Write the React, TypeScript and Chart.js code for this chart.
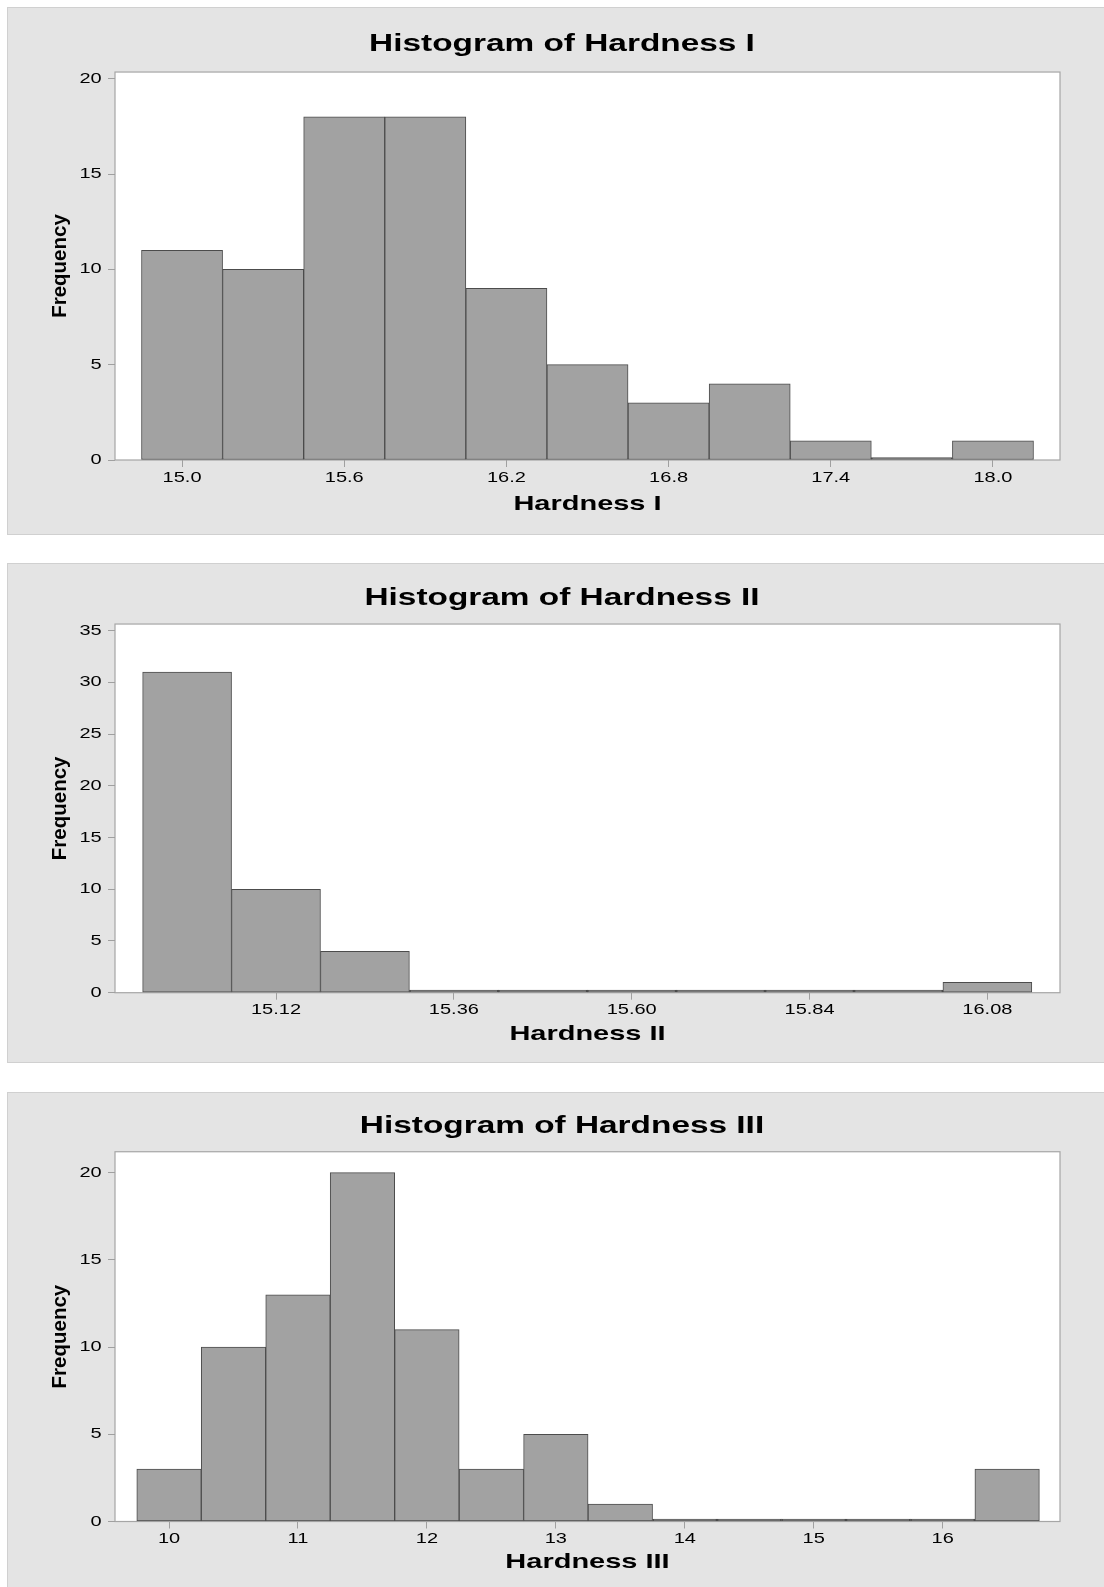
import { useEffect, useRef } from 'react';
import { Chart, registerables } from 'chart.js';

Chart.register(...registerables);

const FONT = "'Liberation Sans', Arial, Helvetica, sans-serif";
Chart.defaults.font.family = FONT;
Chart.defaults.color = '#000';

// ---------- Data ----------
const binsI = [15.0, 15.3, 15.6, 15.9, 16.2, 16.5, 16.8, 17.1, 17.4, 17.7, 18.0];
const freqI = [11, 10, 18, 18, 9, 5, 3, 4, 1, 0, 1];
const xTicksI = [15.0, 15.6, 16.2, 16.8, 17.4, 18.0];
const yTicksI = [0, 5, 10, 15, 20];

const binsII = [15.0, 15.12, 15.24, 15.36, 15.48, 15.6, 15.72, 15.84, 15.96, 16.08];
const freqII = [31, 10, 4, 0, 0, 0, 0, 0, 0, 1];
const xTicksII = [15.12, 15.36, 15.6, 15.84, 16.08];
const yTicksII = [0, 5, 10, 15, 20, 25, 30, 35];

const binsIII = [10.0, 10.5, 11.0, 11.5, 12.0, 12.5, 13.0, 13.5, 14.0, 14.5, 15.0, 15.5, 16.0, 16.5];
const freqIII = [3, 10, 13, 20, 11, 3, 5, 1, 0, 0, 0, 0, 0, 3];
const xTicksIII = [10, 11, 12, 13, 14, 15, 16];
const yTicksIII = [0, 5, 10, 15, 20];

// ---------- Plugins ----------
const framePlugin = {
  id: 'plotFrame',
  beforeDraw(chart: any) {
    const { ctx, chartArea: a } = chart;
    ctx.save();
    ctx.fillStyle = '#ffffff';
    ctx.fillRect(a.left, a.top, a.right - a.left, a.bottom - a.top);
    ctx.strokeStyle = '#a6a6a6';
    ctx.lineWidth = 1.2;
    ctx.strokeRect(a.left, a.top, a.right - a.left, a.bottom - a.top);
    ctx.restore();
  },
};

// The reference graphic has horizontally widened lettering; reproduce it by
// stretching horizontal text about its anchor point.
const TEXT_STRETCH = 1.38;
const textStretchPlugin = {
  id: 'textStretch',
  beforeDraw(chart: any) {
    const ctx: any = chart.ctx;
    if (ctx.__stretched) return;
    ctx.__stretched = true;
    const orig = ctx.fillText;
    ctx.fillText = function (text: string, x: number, y: number) {
      const t = this.getTransform();
      const rotated = Math.abs(t.b) > 0.01;
      if (rotated) {
        orig.call(this, text, x, y);
        return;
      }
      this.save();
      this.translate(x, y);
      this.scale(TEXT_STRETCH, 1);
      orig.call(this, text, 0, 0);
      this.restore();
    };
  },
};

// ---------- Panels ----------
type PanelSpec = {
  top: number;
  height: number;
  title: string;
  xTitle: string;
  bins: number[];
  freq: number[];
  xTicks: number[];
  yTicks: number[];
  decimals: number;
  xMin: number;
  xMax: number;
  yMax: number;
  titlePadTop: number;
  titlePadBottom: number;
  xAxisHeight: number;
  xTitlePadBottom: number;
};

const panels: PanelSpec[] = [
  {
    top: 7, height: 528,
    title: 'Histogram of Hardness I', xTitle: 'Hardness I',
    bins: binsI, freq: freqI, xTicks: xTicksI, yTicks: yTicksI, decimals: 1,
    xMin: 14.752, xMax: 18.248, yMax: 20.35,
    titlePadTop: 21.5, titlePadBottom: 13.5, xAxisHeight: 74, xTitlePadBottom: 17.4,
  },
  {
    top: 563, height: 500,
    title: 'Histogram of Hardness II', xTitle: 'Hardness II',
    bins: binsII, freq: freqII, xTicks: xTicksII, yTicks: yTicksII, decimals: 2,
    xMin: 14.9027, xMax: 16.178, yMax: 35.65,
    titlePadTop: 20.2, titlePadBottom: 10.8, xAxisHeight: 69.3, xTitlePadBottom: 14.9,
  },
  {
    top: 1092, height: 500,
    title: 'Histogram of Hardness III', xTitle: 'Hardness III',
    bins: binsIII, freq: freqIII, xTicks: xTicksIII, yTicks: yTicksIII, decimals: 0,
    xMin: 9.581, xMax: 16.91, yMax: 21.2,
    titlePadTop: 18.6, titlePadBottom: 11.1, xAxisHeight: 69.5, xTitlePadBottom: 16.4,
  },
];

const CANVAS_W = 1108;
const BAR_FILL = '#a2a2a2';
const BAR_EDGE = '#4c4c4c';

function HistogramPanel({ spec }: { spec: PanelSpec }) {
  const ref = useRef<HTMLCanvasElement>(null);
  const canvasH = spec.height - 2;

  useEffect(() => {
    const canvas = ref.current!;
    const chart = new Chart(canvas, {
      type: 'bar',
      data: {
        datasets: [
          {
            data: spec.bins.map((b, i) => ({ x: b, y: spec.freq[i] })),
            backgroundColor: (c: any) => (c.raw && c.raw.y === 0 ? BAR_EDGE : BAR_FILL),
            borderColor: BAR_EDGE,
            borderWidth: 1,
            borderSkipped: false,
            barPercentage: 1,
            categoryPercentage: 1,
            minBarLength: 2.5,
          } as any,
        ],
      },
      options: {
        responsive: false,
        animation: false,
        devicePixelRatio: 1,
        layout: { padding: 0 },
        events: [],
        plugins: {
          legend: { display: false },
          tooltip: { enabled: false },
          title: {
            display: true,
            text: spec.title,
            color: '#000',
            font: { size: 24.2, weight: 'bold', family: FONT },
            padding: { top: spec.titlePadTop, bottom: spec.titlePadBottom },
          },
        },
        scales: {
          x: {
            type: 'linear',
            min: spec.xMin,
            max: spec.xMax,
            offset: false,
            grid: {
              display: true,
              offset: false,
              drawOnChartArea: false,
              drawTicks: true,
              tickLength: 7,
              color: '#a0a0a0',
            },
            border: { display: false },
            ticks: {
              color: '#000',
              font: { size: 14.5, family: FONT },
              padding: 2,
              maxRotation: 0,
              autoSkip: false,
              callback: (v: any) => Number(v).toFixed(spec.decimals),
            },
            afterBuildTicks: (s: any) => {
              s.ticks = spec.xTicks.map((v) => ({ value: v }));
            },
            afterFit: (s: any) => {
              s.height = spec.xAxisHeight;
            },
            title: {
              display: true,
              text: spec.xTitle,
              color: '#000',
              font: { size: 21, weight: 'bold', family: FONT },
              padding: { top: 0, bottom: spec.xTitlePadBottom },
            },
          },
          y: {
            type: 'linear',
            min: 0,
            max: spec.yMax,
            grid: {
              display: true,
              drawOnChartArea: false,
              drawTicks: true,
              tickLength: 7,
              color: '#a0a0a0',
            },
            border: { display: false },
            ticks: {
              color: '#000',
              font: { size: 14.5, family: FONT },
              padding: 6.3,
              callback: (v: any) => String(Math.round(Number(v))),
            },
            afterBuildTicks: (s: any) => {
              s.ticks = spec.yTicks.map((v) => ({ value: v }));
            },
            afterFit: (s: any) => {
              s.width = 107;
            },
            title: {
              display: true,
              text: 'Frequency',
              color: '#000',
              font: { size: 20.5, weight: 'bold', family: FONT },
              padding: { top: 39.7, bottom: 0 },
            },
          },
          y2: {
            type: 'linear',
            position: 'right',
            display: true,
            grid: { display: false },
            border: { display: false },
            ticks: { display: false },
            afterFit: (s: any) => {
              s.width = 56;
            },
          },
        },
      } as any,
      plugins: [framePlugin, textStretchPlugin],
    });
    return () => chart.destroy();
  }, [spec]);

  return (
    <div
      style={{
        position: 'absolute',
        left: 7,
        top: spec.top,
        width: CANVAS_W + 2,
        height: spec.height,
        boxSizing: 'border-box',
        border: '1px solid #d0d0d0',
        background: '#e4e4e4',
      }}
    >
      <canvas
        ref={ref}
        width={CANVAS_W}
        height={canvasH}
        style={{ position: 'absolute', left: 0, top: 0, width: CANVAS_W, height: canvasH, display: 'block' }}
      />
    </div>
  );
}

export default function App() {
  return (
    <div
      style={{
        position: 'absolute',
        left: 0,
        top: 0,
        width: 1104,
        height: 1587,
        overflow: 'hidden',
        background: '#ffffff',
      }}
    >
      {panels.map((p, i) => (
        <HistogramPanel key={i} spec={p} />
      ))}
    </div>
  );
}
